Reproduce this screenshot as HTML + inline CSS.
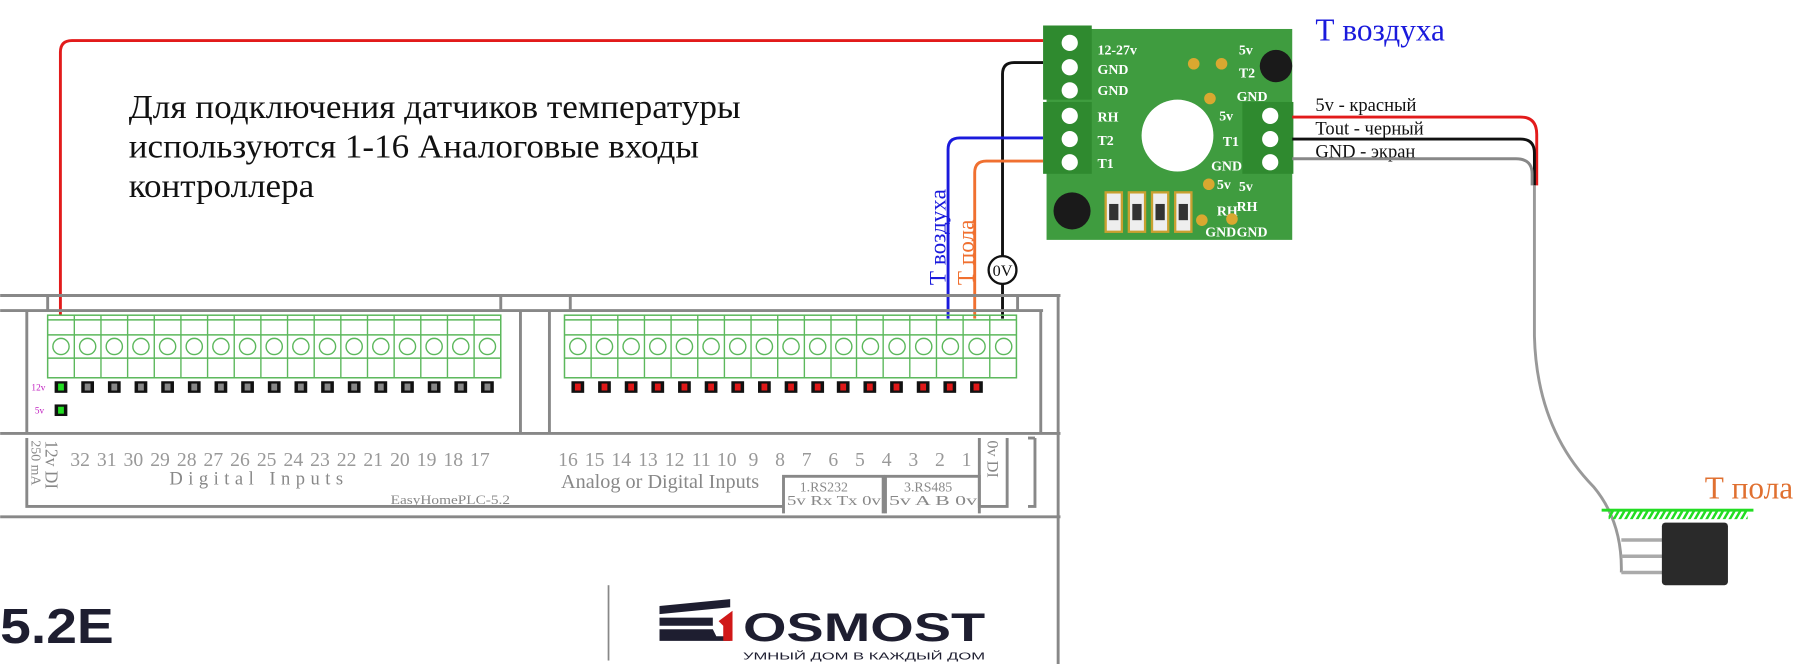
<!DOCTYPE html>
<html><head><meta charset="utf-8"><style>
html,body{margin:0;padding:0;background:#fff;width:1815px;height:664px;overflow:hidden}
svg{display:block}
text{font-family:"Liberation Serif",serif}
</style></head><body>
<svg width="1815" height="664" viewBox="0 0 1566 573" xmlns="http://www.w3.org/2000/svg">
<defs>
<pattern id="hatch" width="5" height="8" patternUnits="userSpaceOnUse" patternTransform="skewX(-30)">
<rect x="0" y="0" width="2.5" height="8" fill="#22dd22"/>
</pattern>
</defs>
<path d="M52,272 V45 Q52,35 62,35 H900" fill="none" stroke="#e21b1b" stroke-width="2.5"/>
<path d="M865,275 V64 Q865,54 875,54 H900" fill="none" stroke="#111" stroke-width="2.5"/>
<path d="M818,275 V129 Q818,119 828,119 H900" fill="none" stroke="#1a1adc" stroke-width="2.5"/>
<path d="M841,275 V149 Q841,139 851,139 H900" fill="none" stroke="#f07030" stroke-width="2.5"/>
<circle cx="865" cy="233" r="12" fill="#fff" stroke="#111" stroke-width="2"/>
<text x="865" y="238" font-size="14" text-anchor="middle" fill="#111">0V</text>
<text transform="translate(816,246) rotate(-90)" font-size="20" fill="#1a1adc">Т воздуха</text>
<text transform="translate(840,246) rotate(-90)" font-size="20" fill="#f07030">Т пола</text>
<text x="111" y="102" font-size="29" fill="#111" textLength="528" lengthAdjust="spacingAndGlyphs">Для подключения датчиков температуры</text>
<text x="111" y="136" font-size="29" fill="#111" textLength="492" lengthAdjust="spacingAndGlyphs">используются 1-16 Аналоговые входы</text>
<text x="111" y="170" font-size="29" fill="#111" textLength="160" lengthAdjust="spacingAndGlyphs">контроллера</text>
<rect x="903" y="25" width="212" height="182" fill="#3f9c3f"/>
<rect x="900" y="22" width="42" height="64" fill="#2f8a2f"/>
<rect x="900" y="88" width="42" height="62" fill="#2f8a2f"/>
<rect x="1072" y="88" width="44" height="62" fill="#2f8a2f"/>
<g fill="#fff">
<circle cx="923" cy="37" r="7"/><circle cx="923" cy="58" r="7"/><circle cx="923" cy="78" r="7"/>
<circle cx="923" cy="100" r="7"/><circle cx="923" cy="120" r="7"/><circle cx="923" cy="140" r="7"/>
<circle cx="1096" cy="100" r="7"/><circle cx="1096" cy="120" r="7"/><circle cx="1096" cy="140" r="7"/>
<circle cx="1016" cy="117" r="31"/>
</g>
<g font-weight="bold" font-size="12" fill="#fff" style="font-family:'Liberation Sans',sans-serif">
<text x="947" y="47">12-27v</text><text x="947" y="64">GND</text><text x="947" y="82">GND</text>
<text x="947" y="105">RH</text><text x="947" y="125">T2</text><text x="947" y="145">T1</text>
<text x="1052" y="104">5v</text><text x="1055" y="126">T1</text><text x="1045" y="147">GND</text>
<text x="1069" y="47">5v</text><text x="1069" y="67">T2</text><text x="1067" y="87">GND</text>
<text x="1069" y="165">5v</text><text x="1067" y="182">RH</text><text x="1067" y="204">GND</text>
<text x="1050" y="163">5v</text><text x="1050" y="186">RH</text><text x="1040" y="204">GND</text>
</g>
<circle cx="1101" cy="57" r="14" fill="#1a1a1a"/>
<circle cx="925" cy="182" r="16" fill="#1a1a1a"/>
<g fill="#eee" stroke="#c9a030" stroke-width="2">
<rect x="954" y="166" width="14" height="34"/><rect x="974" y="166" width="14" height="34"/><rect x="994" y="166" width="14" height="34"/><rect x="1014" y="166" width="14" height="34"/>
</g>
<g fill="#333"><rect x="957" y="176" width="8" height="14"/><rect x="977" y="176" width="8" height="14"/><rect x="997" y="176" width="8" height="14"/><rect x="1017" y="176" width="8" height="14"/></g>
<g fill="#d9a830"><circle cx="1030" cy="55" r="5"/><circle cx="1054" cy="55" r="5"/><circle cx="1044" cy="85" r="5"/><circle cx="1043" cy="159" r="5"/><circle cx="1037" cy="190" r="5"/><circle cx="1063" cy="189" r="5"/></g>
<text x="1135" y="35" font-size="27" fill="#1a1adc">Т воздуха</text>
<text x="1135" y="96" font-size="16" fill="#111">5v - красный</text>
<text x="1135" y="116" font-size="16" fill="#111">Tout - черный</text>
<text x="1135" y="136" font-size="16" fill="#111">GND - экран</text>
<path d="M1115,101 H1312 Q1326,101 1326,116 V160" fill="none" stroke="#e21b1b" stroke-width="2.5"/>
<path d="M1115,120 H1312 Q1324,120 1324,132 V160" fill="none" stroke="#111" stroke-width="2.5"/>
<path d="M1115,137 H1308 Q1322,137 1322,150 V160" fill="none" stroke="#888" stroke-width="2.5"/>
<path d="M1324,160 V290 Q1326,370 1375,420 Q1400,450 1399,494" fill="none" stroke="#999" stroke-width="2.5"/>
<rect x="1382" y="439" width="131" height="2.5" fill="#22dd22"/>
<rect x="1388" y="441" width="120" height="7" fill="url(#hatch)"/>
<g stroke="#aaa" stroke-width="3"><line x1="1399" y1="466" x2="1436" y2="466"/><line x1="1399" y1="480" x2="1436" y2="480"/><line x1="1399" y1="494" x2="1436" y2="494"/></g>
<rect x="1434" y="451" width="57" height="54" rx="3" fill="#2a2a2a"/>
<text x="1471" y="430" font-size="27" fill="#e07030">Т пола</text>
<g stroke="#888" stroke-width="2.5" fill="none">
<line x1="0" y1="255" x2="915" y2="255"/>
<line x1="0" y1="268" x2="900" y2="268"/>
<line x1="0" y1="374" x2="915" y2="374"/>
<line x1="0" y1="446" x2="915" y2="446"/>
<line x1="913" y1="255" x2="913" y2="573"/>
<line x1="41" y1="255" x2="41" y2="268"/>
<line x1="432" y1="255" x2="432" y2="268"/>
<line x1="492" y1="255" x2="492" y2="268"/>
<line x1="878" y1="255" x2="878" y2="268"/>
<line x1="23" y1="268" x2="23" y2="374"/>
<line x1="449" y1="268" x2="449" y2="374"/>
<line x1="474" y1="268" x2="474" y2="374"/>
<line x1="898" y1="268" x2="898" y2="374"/>
<polyline points="23,378 23,437 676,437"/>
<polyline points="676,443 676,411 762,411 762,443"/>
<polyline points="764,443 764,411 845,411 845,443"/>
<polyline points="845,378 845,437 869,437 869,378"/>
<polyline points="887,378 893,378"/><polyline points="887,437 893,437 893,378"/>
<line x1="525" y1="505" x2="525" y2="570" stroke-width="1.5"/>
</g>
<g stroke="#5cb85c" stroke-width="1.3" fill="none">
<rect x="41" y="272" width="391" height="54"/>
<line x1="41" y1="276" x2="432" y2="276"/><line x1="41" y1="289" x2="432" y2="289"/><line x1="41" y1="309" x2="432" y2="309"/>
<rect x="487" y="272" width="390" height="54"/>
<line x1="487" y1="276" x2="877" y2="276"/><line x1="487" y1="289" x2="877" y2="289"/><line x1="487" y1="309" x2="877" y2="309"/>
</g>
<g stroke="#5cb85c" stroke-width="1.2" fill="#fff">
<g>
<line x1="64" y1="272" x2="64" y2="326"/><line x1="87" y1="272" x2="87" y2="326"/><line x1="110" y1="272" x2="110" y2="326"/><line x1="133" y1="272" x2="133" y2="326"/><line x1="156" y1="272" x2="156" y2="326"/><line x1="179" y1="272" x2="179" y2="326"/><line x1="202" y1="272" x2="202" y2="326"/><line x1="225" y1="272" x2="225" y2="326"/><line x1="248" y1="272" x2="248" y2="326"/><line x1="271" y1="272" x2="271" y2="326"/><line x1="294" y1="272" x2="294" y2="326"/><line x1="317" y1="272" x2="317" y2="326"/><line x1="340" y1="272" x2="340" y2="326"/><line x1="363" y1="272" x2="363" y2="326"/><line x1="386" y1="272" x2="386" y2="326"/><line x1="409" y1="272" x2="409" y2="326"/>
</g>
<g>
<circle cx="52.5" cy="299" r="7"/><circle cx="75.5" cy="299" r="7"/><circle cx="98.5" cy="299" r="7"/><circle cx="121.5" cy="299" r="7"/><circle cx="144.5" cy="299" r="7"/><circle cx="167.5" cy="299" r="7"/><circle cx="190.5" cy="299" r="7"/><circle cx="213.5" cy="299" r="7"/><circle cx="236.5" cy="299" r="7"/><circle cx="259.5" cy="299" r="7"/><circle cx="282.5" cy="299" r="7"/><circle cx="305.5" cy="299" r="7"/><circle cx="328.5" cy="299" r="7"/><circle cx="351.5" cy="299" r="7"/><circle cx="374.5" cy="299" r="7"/><circle cx="397.5" cy="299" r="7"/><circle cx="420.5" cy="299" r="7"/>
</g>
<g>
<line x1="510" y1="272" x2="510" y2="326"/><line x1="533" y1="272" x2="533" y2="326"/><line x1="556" y1="272" x2="556" y2="326"/><line x1="579" y1="272" x2="579" y2="326"/><line x1="602" y1="272" x2="602" y2="326"/><line x1="625" y1="272" x2="625" y2="326"/><line x1="648" y1="272" x2="648" y2="326"/><line x1="671" y1="272" x2="671" y2="326"/><line x1="694" y1="272" x2="694" y2="326"/><line x1="717" y1="272" x2="717" y2="326"/><line x1="739" y1="272" x2="739" y2="326"/><line x1="762" y1="272" x2="762" y2="326"/><line x1="785" y1="272" x2="785" y2="326"/><line x1="808" y1="272" x2="808" y2="326"/><line x1="831" y1="272" x2="831" y2="326"/><line x1="854" y1="272" x2="854" y2="326"/>
</g>
<g>
<circle cx="498.5" cy="299" r="7"/><circle cx="521.5" cy="299" r="7"/><circle cx="544.5" cy="299" r="7"/><circle cx="567.5" cy="299" r="7"/><circle cx="590.5" cy="299" r="7"/><circle cx="613.5" cy="299" r="7"/><circle cx="636.5" cy="299" r="7"/><circle cx="659.5" cy="299" r="7"/><circle cx="682.5" cy="299" r="7"/><circle cx="705.5" cy="299" r="7"/><circle cx="728" cy="299" r="7"/><circle cx="751" cy="299" r="7"/><circle cx="774" cy="299" r="7"/><circle cx="797" cy="299" r="7"/><circle cx="820" cy="299" r="7"/><circle cx="843" cy="299" r="7"/><circle cx="866" cy="299" r="7"/>
</g>
</g>
<g fill="#111">
<rect x="47" y="329" width="11" height="10"/><rect x="70" y="329" width="11" height="10"/><rect x="93" y="329" width="11" height="10"/><rect x="116" y="329" width="11" height="10"/><rect x="139" y="329" width="11" height="10"/><rect x="162" y="329" width="11" height="10"/><rect x="185" y="329" width="11" height="10"/><rect x="208" y="329" width="11" height="10"/><rect x="231" y="329" width="11" height="10"/><rect x="254" y="329" width="11" height="10"/><rect x="277" y="329" width="11" height="10"/><rect x="300" y="329" width="11" height="10"/><rect x="323" y="329" width="11" height="10"/><rect x="346" y="329" width="11" height="10"/><rect x="369" y="329" width="11" height="10"/><rect x="392" y="329" width="11" height="10"/><rect x="415" y="329" width="11" height="10"/>
<rect x="47" y="349" width="11" height="10"/>
<rect x="493" y="329" width="11" height="10"/><rect x="516" y="329" width="11" height="10"/><rect x="539" y="329" width="11" height="10"/><rect x="562" y="329" width="11" height="10"/><rect x="585" y="329" width="11" height="10"/><rect x="608" y="329" width="11" height="10"/><rect x="631" y="329" width="11" height="10"/><rect x="654" y="329" width="11" height="10"/><rect x="677" y="329" width="11" height="10"/><rect x="700" y="329" width="11" height="10"/><rect x="722" y="329" width="11" height="10"/><rect x="745" y="329" width="11" height="10"/><rect x="768" y="329" width="11" height="10"/><rect x="791" y="329" width="11" height="10"/><rect x="814" y="329" width="11" height="10"/><rect x="837" y="329" width="11" height="10"/>
</g>
<g fill="#888">
<rect x="73" y="331" width="5" height="6"/><rect x="96" y="331" width="5" height="6"/><rect x="119" y="331" width="5" height="6"/><rect x="142" y="331" width="5" height="6"/><rect x="165" y="331" width="5" height="6"/><rect x="188" y="331" width="5" height="6"/><rect x="211" y="331" width="5" height="6"/><rect x="234" y="331" width="5" height="6"/><rect x="257" y="331" width="5" height="6"/><rect x="280" y="331" width="5" height="6"/><rect x="303" y="331" width="5" height="6"/><rect x="326" y="331" width="5" height="6"/><rect x="349" y="331" width="5" height="6"/><rect x="372" y="331" width="5" height="6"/><rect x="395" y="331" width="5" height="6"/><rect x="418" y="331" width="5" height="6"/>
</g>
<g fill="#22dd22"><rect x="50" y="331" width="5" height="6"/><rect x="50" y="351" width="5" height="6"/></g>
<g fill="#e01818">
<rect x="496" y="331" width="5" height="6"/><rect x="519" y="331" width="5" height="6"/><rect x="542" y="331" width="5" height="6"/><rect x="565" y="331" width="5" height="6"/><rect x="588" y="331" width="5" height="6"/><rect x="611" y="331" width="5" height="6"/><rect x="634" y="331" width="5" height="6"/><rect x="657" y="331" width="5" height="6"/><rect x="680" y="331" width="5" height="6"/><rect x="703" y="331" width="5" height="6"/><rect x="725" y="331" width="5" height="6"/><rect x="748" y="331" width="5" height="6"/><rect x="771" y="331" width="5" height="6"/><rect x="794" y="331" width="5" height="6"/><rect x="817" y="331" width="5" height="6"/><rect x="840" y="331" width="5" height="6"/>
</g>
<text x="27" y="337" font-size="8" fill="#c020c0">12v</text>
<text x="30" y="357" font-size="8" fill="#c020c0">5v</text>
<g fill="#999" font-size="17" text-anchor="middle">
<text x="69" y="402">32</text><text x="92" y="402">31</text><text x="115" y="402">30</text><text x="138" y="402">29</text><text x="161" y="402">28</text><text x="184" y="402">27</text><text x="207" y="402">26</text><text x="230" y="402">25</text><text x="253" y="402">24</text><text x="276" y="402">23</text><text x="299" y="402">22</text><text x="322" y="402">21</text><text x="345" y="402">20</text><text x="368" y="402">19</text><text x="391" y="402">18</text><text x="414" y="402">17</text>
<text x="490" y="402">16</text><text x="513" y="402">15</text><text x="536" y="402">14</text><text x="559" y="402">13</text><text x="582" y="402">12</text><text x="605" y="402">11</text><text x="627" y="402">10</text><text x="650" y="402">9</text><text x="673" y="402">8</text><text x="696" y="402">7</text><text x="719" y="402">6</text><text x="742" y="402">5</text><text x="765" y="402">4</text><text x="788" y="402">3</text><text x="811" y="402">2</text><text x="834" y="402">1</text>
</g>
<g fill="#888">
<text x="146" y="418" font-size="16" textLength="153" letter-spacing="3">Digital Inputs</text>
<text x="484" y="421" font-size="17" textLength="171" lengthAdjust="spacingAndGlyphs">Analog or Digital Inputs</text>
<text x="337" y="435" font-size="11" textLength="103" lengthAdjust="spacingAndGlyphs">EasyHomePLC-5.2</text>
<text x="690" y="424" font-size="12">1.RS232</text>
<text x="679" y="436" font-size="12" textLength="81" lengthAdjust="spacingAndGlyphs">5v Rx Tx 0v</text>
<text x="780" y="424" font-size="12">3.RS485</text>
<text x="767" y="436" font-size="12" textLength="76" lengthAdjust="spacingAndGlyphs">5v  A  B  0v</text>
<text transform="translate(852,380) rotate(90)" font-size="14">0v DI</text>
<text transform="translate(39,380) rotate(90)" font-size="15">12v DI</text>
<text transform="translate(27,380) rotate(90)" font-size="12">250 mA</text>
</g>
<text x="0" y="555" font-size="42" font-weight="bold" fill="#1e1e30" style="font-family:'Liberation Sans',sans-serif" textLength="98" lengthAdjust="spacingAndGlyphs">5.2E</text>
<g fill="#1e1e30">
<polygon points="569,523 630,517 630,524 569,530"/>
<rect x="569" y="533" width="46" height="7"/>
<polygon points="569,543 615,543 618,549 630,549 630,553 569,553"/>
</g>
<polygon points="620,536 632,527 632,553 624,553 624,540" fill="#d01818"/>
<text x="641" y="553" font-size="34" font-weight="bold" fill="#1e1e30" style="font-family:'Liberation Sans',sans-serif" textLength="209" lengthAdjust="spacingAndGlyphs">OSMOST</text>
<text x="641" y="569" font-size="9" fill="#1e1e30" style="font-family:'Liberation Sans',sans-serif" textLength="209" lengthAdjust="spacingAndGlyphs">УМНЫЙ ДОМ В КАЖДЫЙ ДОМ</text>
</svg>
</body></html>
